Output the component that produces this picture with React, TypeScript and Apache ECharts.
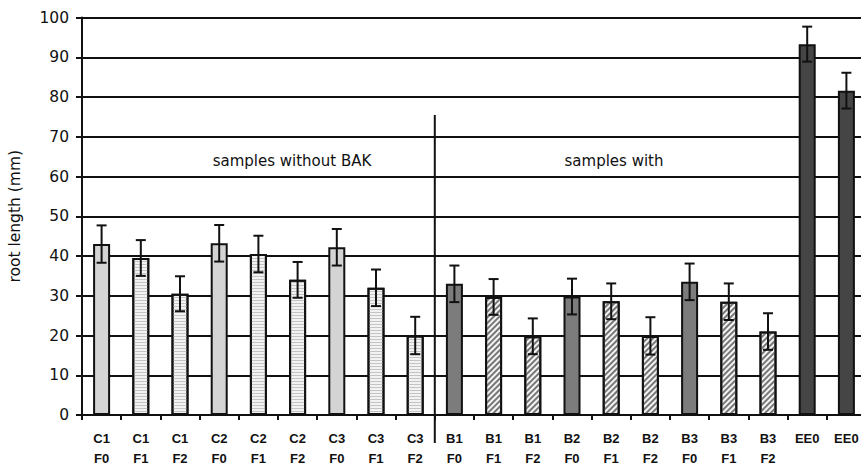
import React, { useEffect, useRef } from "react";
import * as echarts from "echarts";

const categories = [
  "C1\nF0", "C1\nF1", "C1\nF2", "C2\nF0", "C2\nF1", "C2\nF2", "C3\nF0", "C3\nF1", "C3\nF2",
  "B1\nF0", "B1\nF1", "B1\nF2", "B2\nF0", "B2\nF1", "B2\nF2", "B3\nF0", "B3\nF1", "B3\nF2",
  "EE0", "EE0",
];
const means = [43, 39.5, 30.5, 43.2, 40.5, 34, 42.2, 32, 20, 33, 29.7, 19.8, 29.8, 28.6, 19.9, 33.5, 28.5, 21, 93.3, 81.6];
const errors = [4.7, 4.5, 4.4, 4.6, 4.6, 4.5, 4.6, 4.6, 4.7, 4.6, 4.5, 4.5, 4.5, 4.5, 4.7, 4.6, 4.6, 4.6, 4.4, 4.5];
const yTicks = [0, 10, 20, 30, 40, 50, 60, 70, 80, 90, 100];
const annotations = ["samples without BAK", "samples with"];
const yAxisTitle = "root length (mm)";

function styleFor(cat: string) {
  const border = { borderColor: "#111", borderWidth: 2 };
  if (cat.startsWith("EE")) return { color: "#454545", ...border };
  const isF0 = cat.endsWith("F0");
  if (cat.startsWith("C")) {
    if (isF0) return { color: "#d4d4d4", ...border };
    return {
      color: "#f2f2f2",
      ...border,
      decal: { symbol: "rect", dashArrayX: [1, 0], dashArrayY: [1, 2], color: "#c4c4c4", rotation: 0 },
    };
  }
  if (isF0) return { color: "#7c7c7c", ...border };
  return {
    color: "#f4f4f4",
    ...border,
    decal: { symbol: "rect", dashArrayX: [1, 0], dashArrayY: [1.5, 1.5], color: "#777", rotation: -Math.PI / 4 },
  };
}

export default function App() {
  const ref = useRef<HTMLDivElement>(null);
  useEffect(() => {
    if (!ref.current) return;
    const chart = echarts.init(ref.current, null, { renderer: "svg" });
    const font = "DejaVu Sans";
    chart.setOption({
      animation: false,
      backgroundColor: "#ffffff",
      grid: { left: 82, top: 17.5, width: 784, height: 397.5, containLabel: false, outerBoundsMode: "none" },
      xAxis: {
        type: "category",
        data: categories,
        boundaryGap: true,
        axisLine: { lineStyle: { color: "#111", width: 2 } },
        axisTick: { show: true, length: 5, lineStyle: { color: "#111", width: 2 } },
        axisLabel: {
          interval: 0,
          margin: 13,
          color: "#111",
          fontFamily: "Liberation Sans",
          fontWeight: "bold",
          fontSize: 13,
          lineHeight: 20,
        },
      },
      yAxis: {
        type: "value",
        min: yTicks[0],
        max: yTicks[yTicks.length - 1],
        interval: 10,
        name: yAxisTitle,
        nameLocation: "middle",
        nameGap: 59,
        nameRotate: 90,
        nameTextStyle: { color: "#111", fontFamily: font, fontSize: 15.5 },
        axisLine: { show: true, lineStyle: { color: "#111", width: 2 } },
        axisTick: { show: true, length: 6, lineStyle: { color: "#111", width: 2 } },
        axisLabel: { margin: 13, color: "#111", fontFamily: font, fontSize: 15.5 },
        splitLine: { show: true, lineStyle: { color: "#111", width: 2 } },
      },
      series: [
        {
          type: "bar",
          barWidth: 17,
          data: means.map((v, i) => ({ value: v, itemStyle: styleFor(categories[i]) })),
          z: 2,
        },
        {
          type: "custom",
          z: 5,
          encode: { x: 0, y: [1, 2] },
          data: means.map((v, i) => [i, v - errors[i], v + errors[i]]),
          renderItem: (params: any, api: any) => {
            const x = api.value(0);
            const lo = api.coord([x, api.value(1)]);
            const hi = api.coord([x, api.value(2)]);
            const hw = 5;
            const st = { stroke: "#111", lineWidth: 2 };
            return {
              type: "group",
              children: [
                { type: "line", shape: { x1: lo[0], y1: lo[1], x2: hi[0], y2: hi[1] }, style: st },
                { type: "line", shape: { x1: lo[0] - hw, y1: lo[1], x2: lo[0] + hw, y2: lo[1] }, style: st },
                { type: "line", shape: { x1: hi[0] - hw, y1: hi[1], x2: hi[0] + hw, y2: hi[1] }, style: st },
              ],
            };
          },
        },
      ],
    });

    const c8 = chart.convertToPixel({ xAxisIndex: 0 }, 8) as number;
    const c9 = chart.convertToPixel({ xAxisIndex: 0 }, 9) as number;
    const divX = (c8 + c9) / 2;
    const yTop = chart.convertToPixel({ yAxisIndex: 0 }, 75.5) as number;
    const yZero = chart.convertToPixel({ yAxisIndex: 0 }, 0) as number;
    const yText = chart.convertToPixel({ yAxisIndex: 0 }, 63.8) as number;
    chart.setOption({
      graphic: [
        {
          type: "line",
          shape: { x1: divX, y1: yTop, x2: divX, y2: yZero + 28 },
          style: { stroke: "#111", lineWidth: 2 },
          z: 10,
        },
        {
          type: "text",
          x: 292,
          y: yText,
          style: { text: annotations[0], fill: "#111", font: "15px DejaVu Sans", align: "center", verticalAlign: "middle" },
        },
        {
          type: "text",
          x: 614,
          y: yText,
          style: { text: annotations[1], fill: "#111", font: "15px DejaVu Sans", align: "center", verticalAlign: "middle" },
        },
      ],
    });
    return () => chart.dispose();
  }, []);
  return <div ref={ref} style={{ position: "fixed", left: 0, top: 0, width: 861, height: 466 }} />;
}
